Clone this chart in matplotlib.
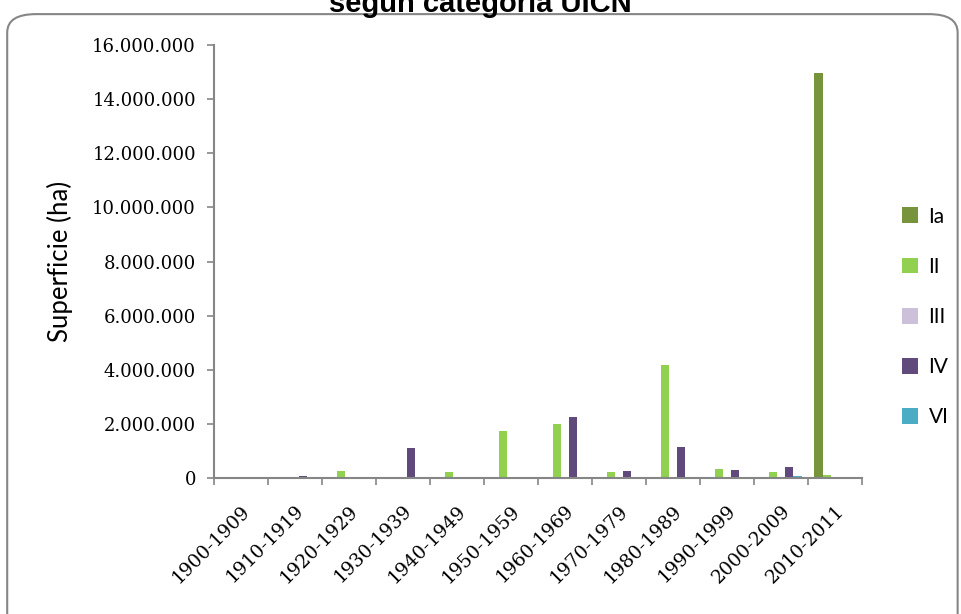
import matplotlib.pyplot as plt
import numpy as np
from matplotlib.patches import FancyBboxPatch
from matplotlib.ticker import FuncFormatter

# --------------------------------------------------
# Data
# --------------------------------------------------

decades = [
    "1900-1909", "1910-1919", "1920-1929", "1930-1939", "1940-1949",
    "1950-1959", "1960-1969", "1970-1979", "1980-1989", "1990-1999",
    "2000-2009", "2010-2011",
]

series_names = ["Ia", "II", "III", "IV", "VI"]

cat_ia = [0, 0, 0, 0, 0, 0, 0, 0, 0, 0, 0, 14970000]
cat_ii = [0, 0, 260000, 0, 220000, 1740000, 2000000, 220000, 4175000, 330000, 220000, 110000]
cat_iii = [0, 0, 0, 0, 0, 0, 0, 0, 0, 0, 0, 0]
cat_iv = [0, 80000, 0, 1110000, 0, 0, 2250000, 260000, 1150000, 300000, 400000, 0]
cat_vi = [0, 0, 0, 0, 0, 0, 0, 0, 0, 0, 70000, 0]

colors = ["#77933C", "#92D050", "#CCC0DA", "#604A7B", "#4BACC6"]

# --------------------------------------------------
# Figure
# --------------------------------------------------

fig = plt.figure(figsize=(9.61, 6.14), dpi=100)

# rounded chart border
fig.patches.append(
    FancyBboxPatch(
        (0.0075, -0.05),
        0.989,
        1.027,
        boxstyle="round,pad=0,rounding_size=0.03",
        transform=fig.transFigure,
        facecolor="white",
        edgecolor="#868686",
        linewidth=1.5,
        zorder=-1,
    )
)

# title is partly cut at the top, as in the source image
fig.text(
    0.5, 0.980,
    "según categoría UICN",
    ha="center", va="baseline",
    fontsize=21, fontweight="bold",
    family="Liberation Sans",
)

ax = fig.add_axes([0.2227, 0.2215, 0.6743, 0.7052])
ax.set_facecolor("none")

x = np.arange(len(decades))
width = 1 / 6.5

all_series = [cat_ia, cat_ii, cat_iii, cat_iv, cat_vi]

for i, (name, values) in enumerate(zip(series_names, all_series)):
    ax.bar(
        x + (i - 2) * width,
        values,
        width,
        color=colors[i],
        label=name,
        zorder=2,
    )

# --------------------------------------------------
# Axes
# --------------------------------------------------

ax.set_xlim(-0.5, len(decades) - 0.5)
ax.set_ylim(0, 16000000)

ax.set_yticks(np.arange(0, 16000001, 2000000))
ax.yaxis.set_major_formatter(
    FuncFormatter(lambda v, p: f"{int(v):,}".replace(",", "."))
)

ax.set_xticks(x)
ax.set_xticklabels(
    decades,
    rotation=45,
    ha="right",
    rotation_mode="anchor",
    fontsize=13.5,
    family="DejaVu Serif",
)
ax.set_xticks(np.arange(-0.5, len(decades), 1), minor=True)
ax.tick_params(axis="x", which="major", length=0, pad=17)
ax.tick_params(axis="x", which="minor", length=5, color="#868686", width=1.2)
ax.tick_params(axis="y", length=5, color="#868686", width=1.2, pad=8)

for label in ax.get_yticklabels():
    label.set_family("DejaVu Serif")
    label.set_fontsize(13)

ax.spines["top"].set_visible(False)
ax.spines["right"].set_visible(False)
ax.spines["left"].set_color("#868686")
ax.spines["bottom"].set_color("#868686")
ax.spines["left"].set_linewidth(1.5)
ax.spines["bottom"].set_linewidth(1.5)

ax.set_ylabel("Superficie (ha)", fontsize=18.5, family="Lato", labelpad=14)

ax.legend(
    loc="center left",
    bbox_to_anchor=(1.032, 0.372),
    frameon=False,
    prop={"family": "Lato", "size": 15},
    handlelength=0.8,
    handleheight=0.8,
    handletextpad=0.5,
    labelspacing=1.45,
)

plt.savefig("out.png", dpi=100)
